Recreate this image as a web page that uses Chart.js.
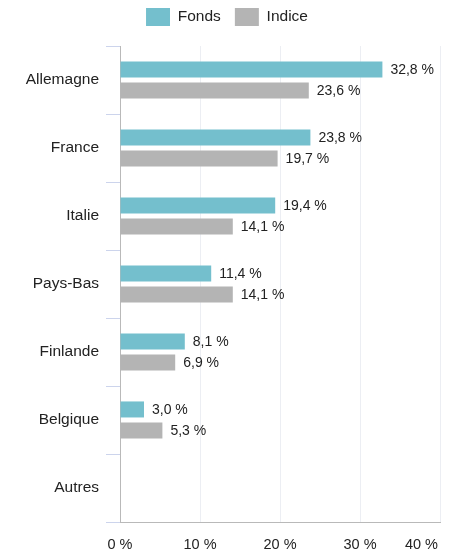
<!DOCTYPE html>
<html>
<head>
<meta charset="utf-8">
<script src="https://cdn.jsdelivr.net/npm/chart.js@4"></script>
<style>
  html, body { margin: 0; padding: 0; background: #fff; }
  #wrap { width: 453px; height: 553px; position: relative; }
</style>
</head>
<body>
<div id="wrap"><canvas id="chart"></canvas></div>
<script>
// categories and series
var pays = ['Allemagne', 'France', 'Italie', 'Pays-Bas', 'Finlande', 'Belgique', 'Autres'];
var fonds = [32.8, 23.8, 19.4, 11.4, 8.1, 3.0, null];
var indice = [23.6, 19.7, 14.1, 14.1, 6.9, 5.3, null];
var xTicks = [0, 10, 20, 30, 40];

var police = 'Liberation Sans, Arial, sans-serif';

function pct(v) {
    return v.toFixed(1).replace('.', ',') + ' %';
}

// value labels to the right of each bar
var valueLabels = {
    id: 'valueLabels',
    afterDatasetsDraw: function(chart) {
        var ctx = chart.ctx;
        ctx.save();
        ctx.font = '14px ' + police;
        ctx.fillStyle = '#222';
        ctx.textAlign = 'left';
        ctx.textBaseline = 'middle';
        chart.data.datasets.forEach(function(ds, i) {
            chart.getDatasetMeta(i).data.forEach(function(bar, j) {
                if (ds.data[j] == null) return;
                ctx.fillText(pct(ds.data[j]), bar.x + 8, bar.y + 1);
            });
        });
        ctx.restore();
    }
};

// x tick labels drawn by hand so the last one stays inside the canvas
var xLabels = {
    id: 'xLabels',
    afterDraw: function(chart) {
        var ctx = chart.ctx;
        var scale = chart.scales.x;
        ctx.save();
        ctx.font = '14.5px ' + police;
        ctx.fillStyle = '#222';
        ctx.textBaseline = 'middle';
        xTicks.forEach(function(t) {
            var txt = t + ' %';
            var x = scale.getPixelForValue(t);
            var w = ctx.measureText(txt).width;
            ctx.textAlign = 'center';
            if (x + w / 2 > chart.width - 15) {
                ctx.textAlign = 'right';
                x = chart.width - 15;
            }
            ctx.fillText(txt, x, chart.chartArea.bottom + 23);
        });
        ctx.restore();
    }
};

// legend sits higher than its padding would put it, and centred on the canvas
var legendShift = {
    id: 'legendShift',
    afterLayout: function(chart) {
        chart.legend.top -= 10;
        chart.legend.bottom -= 10;
        chart.legend.left += 7;
        chart.legend.right += 7;
    }
};

var config = {
    type: 'bar',
    data: {
        labels: pays,
        datasets: [{
            label: 'Fonds',
            data: fonds,
            backgroundColor: '#74bfcd',
            categoryPercentage: 0.62,
            barPercentage: 0.76
        }, {
            label: 'Indice',
            data: indice,
            backgroundColor: '#b4b4b4',
            categoryPercentage: 0.62,
            barPercentage: 0.76
        }]
    },
    options: {
        indexAxis: 'y',
        responsive: true,
        maintainAspectRatio: false,
        animation: false,
        layout: { padding: { left: 0, right: 13, top: 4, bottom: 31 } },
        plugins: {
            legend: {
                position: 'top',
                labels: {
                    boxWidth: 24,
                    boxHeight: 18,
                    padding: 14,
                    color: '#222',
                    font: { family: police, size: 15.5 }
                }
            },
            tooltip: { enabled: false }
        },
        scales: {
            x: {
                min: 0,
                max: 40,
                ticks: { display: false, stepSize: 10 },
                grid: { color: '#eceef3', drawTicks: false },
                border: { color: '#b9b9b9' }
            },
            y: {
                afterFit: function(scale) { scale.width = 120; },
                ticks: {
                    color: '#222',
                    padding: 7,
                    font: { family: police, size: 15.5 }
                },
                grid: {
                    drawOnChartArea: false,
                    tickLength: 14,
                    tickColor: '#ccd4ec',
                    offset: true
                },
                border: { color: '#b9b9b9' }
            }
        }
    },
    plugins: [valueLabels, xLabels, legendShift]
};

new Chart(document.getElementById('chart'), config);
</script>
</body>
</html>
